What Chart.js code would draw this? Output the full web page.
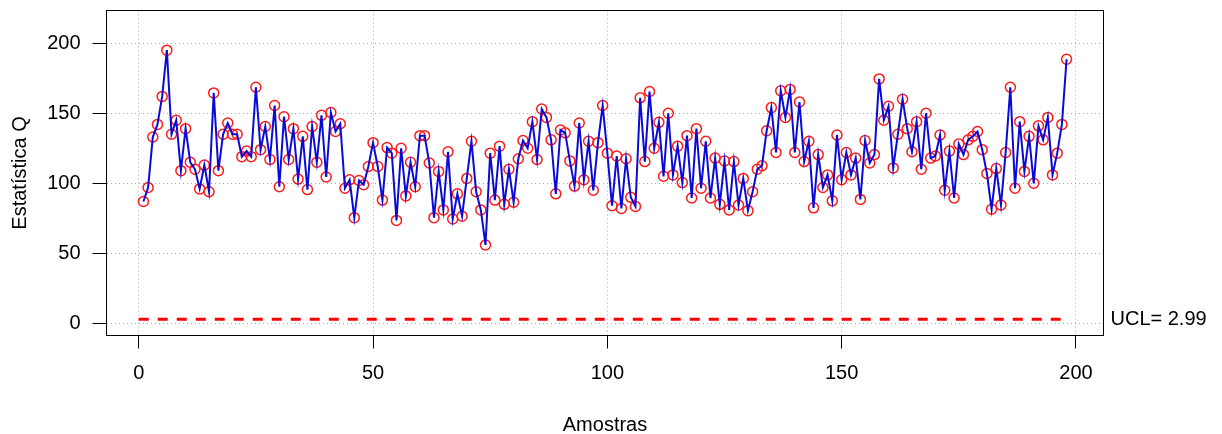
<!DOCTYPE html>
<html>
<head>
<meta charset="utf-8">
<script src="https://cdn.jsdelivr.net/npm/chart.js@4.4.1/dist/chart.umd.min.js"></script>
<style>
  html, body { margin: 0; padding: 0; background: #ffffff; }
  #wrap { width: 1222px; height: 434px; position: relative; }
</style>
</head>
<body>
<div id="wrap"><canvas id="qchart"></canvas></div>
<script>
// Q statistic for each sample (sample number = position + 1)
const qValues = [
  87, 97, 133, 142, 162, 195, 135, 145, 109, 139,
  115, 110, 96, 113, 94, 164.5, 109, 135, 143, 135,
  135, 119, 123, 119, 168.5, 124, 140.5, 117, 155.5, 97.5,
  147.5, 117, 139, 103, 133.5, 95.5, 140.5, 115, 148.5, 104.5,
  150.5, 137, 142.5, 96.5, 102.5, 75.5, 102, 99, 112, 129,
  112, 88, 125.5, 121.5, 73.5, 125, 91, 115, 97.5, 134,
  134, 114.5, 75.5, 108.5, 81, 122.5, 74.5, 92.5, 76.5, 103.5,
  130, 94, 81, 56, 121.5, 88, 126.5, 85, 110, 86.5,
  117.5, 130.5, 125, 144, 117, 153, 147, 131, 92.5, 138,
  136, 116, 98, 143, 102.5, 130, 95, 129, 155.5, 121.5,
  84, 119.5, 82, 117.5, 90, 83.5, 161, 115.5, 165.5, 125,
  143.5, 105, 150, 106, 126.5, 100.5, 134, 89.5, 139, 96.5,
  130, 89.5, 118, 85, 116, 81, 115.5, 84.5, 103.5, 80.5,
  94, 110, 112.5, 137.5, 154, 122, 166, 147, 167, 122,
  158, 115.5, 130, 82.5, 120.5, 97, 106, 87.5, 134.5, 102.5,
  122, 106, 118, 88.5, 130.5, 114.5, 120.5, 174.5, 145, 155,
  111, 135, 160, 139, 122.5, 144, 110, 150, 118, 119.5,
  134.5, 95, 123, 89.5, 128, 120.5, 131, 133.5, 137, 124,
  107, 81.5, 110.5, 84.5, 122, 168.5, 96.5, 144, 108.5, 133.5,
  100, 141, 131, 147, 106, 121.5, 142, 188.5
];

// Upper control limit
const ucl = 2.99;
const uclLabel = 'UCL= 2.99';

// Axis ticks and titles
const xTicks = [0, 50, 100, 150, 200];
const yTicks = [0, 50, 100, 150, 200];
const xTitle = 'Amostras';
const yTitle = 'Estatística Q';

const FONT = '"Liberation Sans", Arial, Helvetica, sans-serif';

const qPoints = qValues.map((v, i) => ({ x: i + 1, y: v }));
const uclPoints = [{ x: 0, y: ucl }, { x: qValues.length, y: ucl }];

// Box around the plot region, UCL annotation and axis titles
const framePlugin = {
  id: 'frame',
  afterDraw(chart) {
    const { ctx, chartArea: a, scales } = chart;
    ctx.save();
    ctx.strokeStyle = '#000000';
    ctx.lineWidth = 1;
    ctx.strokeRect(a.left, a.top, a.right - a.left, a.bottom - a.top);

    ctx.fillStyle = '#000000';
    ctx.font = '20px ' + FONT;
    ctx.textBaseline = 'middle';
    ctx.textAlign = 'left';
    ctx.fillText(uclLabel, a.right + 7, scales.y.getPixelForValue(ucl));

    ctx.textAlign = 'center';
    ctx.fillText(xTitle, (a.left + a.right) / 2, 425);

    ctx.translate(20, (a.top + a.bottom) / 2);
    ctx.rotate(-Math.PI / 2);
    ctx.fillText(yTitle, 0, 0);
    ctx.restore();
  }
};

const gridCommon = {
  color: '#a8a8a8',
  lineWidth: 1,
  tickColor: '#000000',
  tickWidth: 1,
  drawOnChartArea: true,
  drawTicks: true
};

new Chart(document.getElementById('qchart'), {
  type: 'line',
  data: {
    datasets: [
      {
        label: 'linha',
        data: qPoints,
        borderColor: '#0a0ad8',
        borderWidth: 2,
        pointRadius: 0,
        tension: 0,
        fill: false
      },
      {
        label: 'pontos',
        data: qPoints,
        showLine: false,
        pointStyle: 'circle',
        pointRadius: 5,
        pointBorderWidth: 1.5,
        pointBorderColor: '#ff1a1a',
        pointBackgroundColor: 'rgba(0,0,0,0)'
      },
      {
        label: 'UCL',
        data: uclPoints,
        borderColor: '#ff0000',
        borderWidth: 3,
        borderDash: [10, 9],
        pointRadius: 0,
        tension: 0,
        fill: false
      }
    ]
  },
  options: {
    responsive: true,
    maintainAspectRatio: false,
    devicePixelRatio: 1,
    animation: false,
    events: [],
    layout: { padding: { left: 0, right: 118.5, top: 10.5, bottom: 0 } },
    plugins: {
      legend: { display: false },
      tooltip: { enabled: false },
      title: { display: false }
    },
    scales: {
      x: {
        type: 'linear',
        min: -6.88,
        max: 205.88,
        afterBuildTicks: s => { s.ticks = xTicks.map(v => ({ value: v })); },
        afterFit: s => { s.height = 98.5; s.paddingLeft = 0; s.paddingRight = 0; },
        grid: Object.assign({}, gridCommon, { tickLength: 13 }),
        border: { display: false, dash: [1, 3] },
        ticks: {
          color: '#000000',
          font: { family: FONT, size: 20 },
          padding: 13,
          maxRotation: 0,
          autoSkip: false
        }
      },
      y: {
        type: 'linear',
        min: -8.6,
        max: 223.3,
        afterBuildTicks: s => { s.ticks = yTicks.map(v => ({ value: v })); },
        afterFit: s => { s.width = 106.5; s.paddingTop = 0; s.paddingBottom = 0; },
        grid: Object.assign({}, gridCommon, { tickLength: 14 }),
        border: { display: false, dash: [1, 3] },
        ticks: {
          color: '#000000',
          font: { family: FONT, size: 20 },
          padding: 12,
          autoSkip: false
        }
      }
    }
  },
  plugins: [framePlugin]
});
</script>
</body>
</html>
